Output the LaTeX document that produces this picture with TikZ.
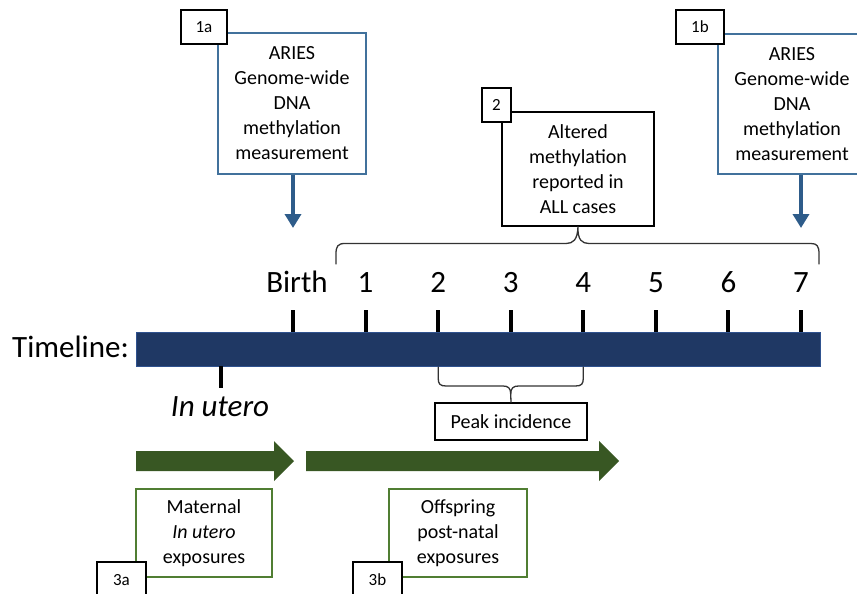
\documentclass[tikz,border=0pt]{standalone}
\usepackage{fontspec}
\setmainfont{Carlito}
\usetikzlibrary{arrows.meta}
\definecolor{navy}{HTML}{1F3864}
\definecolor{navyedge}{HTML}{2F528F}
\definecolor{boxblue}{HTML}{41719C}
\definecolor{arrowblue}{HTML}{2E5C8A}
\definecolor{darkgreen}{HTML}{385723}
\definecolor{boxgreen}{HTML}{507E32}
\begin{document}
\begin{tikzpicture}[x=1pt,y=-1pt,
  boxtext/.style={font=\fontsize{20}{25}\selectfont, align=center, inner sep=0pt, fill=white, line width=1.4pt},
  bluebox/.style={boxtext, draw=boxblue},
  blackbox/.style={boxtext, draw=black},
  greenbox/.style={boxtext, draw=boxgreen},
  labelbox/.style={draw=black, fill=white, line width=1.4pt, inner sep=0pt, font=\fontsize{17}{20}\selectfont},
  ticklabel/.style={font=\fontsize{31}{36}\selectfont, anchor=base, inner sep=0pt},
  tickmark/.style={line width=4pt, black},
  bracepath/.style={line width=1.3pt, black!80, line cap=round, line join=round},
  bluearrow/.style={line width=4pt, arrowblue, -{Triangle[width=16pt,length=14pt]}},
  greenarrow/.style={fill=darkgreen, draw=none}
]
\useasboundingbox (0,0) rectangle (857,594);
\clip (0,0) rectangle (857,594);

% top measurement boxes
\node[bluebox, minimum width=148pt, minimum height=141pt] (m1a) at (292,103.5)
  {ARIES\\Genome-wide\\DNA\\methylation\\measurement};
\node[labelbox, minimum width=46pt, minimum height=34pt] (l1a) at (204,27) {1a};

\node[bluebox, minimum width=148pt, minimum height=140pt] (m1b) at (792,104)
  {ARIES\\Genome-wide\\DNA\\methylation\\measurement};
\node[labelbox, minimum width=48pt, minimum height=34pt] (l1b) at (700,27) {1b};

% altered methylation box
\node[blackbox, minimum width=152pt, minimum height=114pt] (alt) at (578,169)
  {Altered\\methylation\\reported in\\ALL cases};
\node[labelbox, minimum width=29pt, minimum height=34pt] (l2) at (496.5,105) {2};

% timeline bar
\node[fill=navy, draw=navyedge, line width=1pt, minimum width=684pt, minimum height=34pt, inner sep=0pt] (bar) at (478,349) {};
\node[font=\fontsize{31}{36}\selectfont, anchor=base west, inner sep=0pt] (tl) at (12,357) {Timeline:};

% ticks and labels
\foreach \i/\x in {0/293,1/365.6,2/438.2,3/510.7,4/583.3,5/655.9,6/728.4,7/801}{
  \coordinate (t\i) at (\x,310);
  \coordinate (b\i) at (\x,332);
  \draw[tickmark] (t\i) -- (b\i);
}
\node[ticklabel] (lbirth) at (297,292) {Birth};
\foreach \i/\x in {1/365.6,2/438.2,3/510.7,4/583.3,5/655.9,6/728.4,7/801}{
  \node[ticklabel] (lab\i) at (\x,292) {\i};
}

% in utero
\coordinate (u0) at (221,366);
\coordinate (u1) at (221,388);
\draw[tickmark] (u0) -- (u1);
\node[ticklabel] (inutero) at (220,416) {\itshape In utero};

% blue arrows
\coordinate (a0) at (293,228);
\coordinate (a7) at (801,228);
\draw[bluearrow] (m1a.south -| t0) -- (a0);
\draw[bluearrow] (m1b.south -| t7) -- (a7);

% top brace
\draw[bracepath] (336,264) -- (336,254) .. controls (336,246) and (338,243.5) .. (345,243.5)
  -- (566,243.5) .. controls (573,243.5) and (577.5,240) .. (alt.south)
  .. controls (577.5,240) and (582,243.5) .. (589,243.5)
  -- (811,243.5) .. controls (817,243.5) and (819,246) .. (819,254) -- (819,264);

% peak incidence
\node[blackbox, minimum width=152pt, minimum height=37pt] (peak) at (511,421.5) {Peak incidence};
\draw[bracepath] (438.2,367) -- (438.2,378) .. controls (438.2,384) and (440,386) .. (446,386)
  -- (503,386) .. controls (508,386) and (510.7,388) .. (510.7,394) -- (peak.north);
\draw[bracepath] (583.3,367) -- (583.3,378) .. controls (583.3,384) and (581.5,386) .. (575.5,386)
  -- (518.5,386) .. controls (513.5,386) and (510.7,388) .. (510.7,394);

% green arrows
\fill[greenarrow] (136,451) -- (274,451) -- (274,441) -- (294,461) -- (274,481) -- (274,471) -- (136,471) -- cycle;
\fill[greenarrow] (306,451) -- (599,451) -- (599,441) -- (619,461) -- (599,481) -- (599,471) -- (306,471) -- cycle;

% exposure boxes
\node[greenbox, minimum width=136pt, minimum height=88pt] (ex1) at (204,533)
  {Maternal\\\itshape In utero\\exposures};
\node[labelbox, minimum width=49pt, minimum height=36pt] (l3a) at (121.5,580) {3a};
\node[greenbox, minimum width=138pt, minimum height=88pt] (ex2) at (458,533)
  {Offspring\\post-natal\\exposures};
\node[labelbox, minimum width=49pt, minimum height=36pt] (l3b) at (377.5,580) {3b};
\end{tikzpicture}
\end{document}
